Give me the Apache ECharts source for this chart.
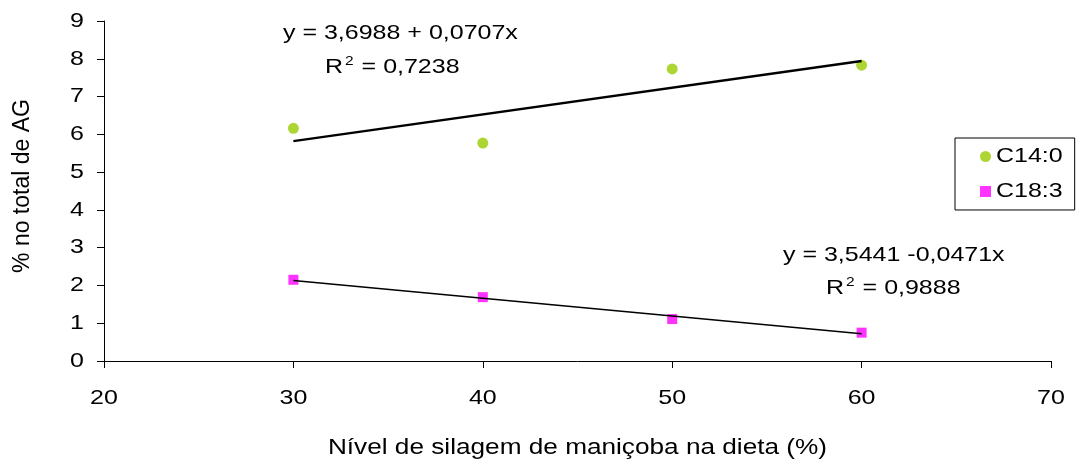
<!DOCTYPE html>
<html>
<head>
<meta charset="utf-8">
<script src="https://cdn.jsdelivr.net/npm/echarts@6/dist/echarts.min.js"></script>
<style>html,body{margin:0;padding:0;background:#fff}#c{width:1080px;height:459px}</style>
</head>
<body>
<div id="c"></div>
<script>
const levels = [30, 40, 50, 60];
const c14 = [6.16, 5.77, 7.73, 7.83];
const c18 = [2.15, 1.69, 1.11, 0.75];
const trendX = [30, 60];
const trendC14 = [5.82, 7.94];
const trendC18 = [2.13, 0.72];
const xTicks = [20, 30, 40, 50, 60, 70];
const eqC14 = ['y = 3,6988 + 0,0707x', 'R{s|2} = 0,7238'];
const eqC18 = ['y = 3,5441 -0,0471x', 'R{s|2} = 0,9888'];

// The reference picture is horizontally stretched; stretch horizontal text glyphs to match.
(function () {
  const S = 1.19;
  const p = CanvasRenderingContext2D.prototype;
  const ft = p.fillText, mt = p.measureText;
  p.fillText = function (t, x, y, mw) {
    const m = this.getTransform();
    if (Math.abs(m.b) > 1e-6 || Math.abs(m.c) > 1e-6) return ft.apply(this, arguments);
    this.save();
    this.translate(x, y);
    this.scale(S, 1);
    ft.call(this, t, 0, 0);
    this.restore();
  };
  p.measureText = function () {
    const r = mt.apply(this, arguments);
    return {
      width: r.width * S,
      actualBoundingBoxLeft: r.actualBoundingBoxLeft * S,
      actualBoundingBoxRight: r.actualBoundingBoxRight * S,
      actualBoundingBoxAscent: r.actualBoundingBoxAscent,
      actualBoundingBoxDescent: r.actualBoundingBoxDescent,
      fontBoundingBoxAscent: r.fontBoundingBoxAscent,
      fontBoundingBoxDescent: r.fontBoundingBoxDescent
    };
  };
})();

const font = 'Liberation Sans, Arial, sans-serif';
const chart = echarts.init(document.getElementById('c'));
const pair = (xs, ys) => xs.map((x, i) => [x, ys[i]]);
const txt = (s, x, y) => ({
  type: 'text', x: x, y: y,
  style: { text: s, fontFamily: font, fontSize: 21, fill: '#000', verticalAlign: 'middle',
    rich: { s: { fontSize: 13, verticalAlign: 'top', padding: [0, 1, 12, 2], fontFamily: font } } }
});
chart.setOption({
  animation: false,
  textStyle: { fontFamily: font },
  grid: { left: 104, right: 29, top: 21, bottom: 98, containLabel: false, outerBoundsMode: 'none' },
  xAxis: {
    type: 'value', min: xTicks[0], max: xTicks[xTicks.length - 1], interval: 10,
    name: 'Nível de silagem de maniçoba na dieta (%)', nameLocation: 'middle', nameGap: 74,
    nameTextStyle: { fontSize: 22, color: '#000', fontFamily: font },
    axisLine: { lineStyle: { color: '#000' } },
    axisTick: { length: 7, lineStyle: { color: '#000' } },
    axisLabel: { fontSize: 21, color: '#000', margin: 25, fontFamily: font },
    splitLine: { show: false }
  },
  yAxis: {
    type: 'value', min: 0, max: 9, interval: 1,
    name: '% no total de AG', nameLocation: 'middle', nameGap: 68,
    nameTextStyle: { fontSize: 23, color: '#000', fontFamily: font, padding: [0, 0, 0, 10] },
    axisLine: { show: true, lineStyle: { color: '#000' } },
    axisTick: { show: true, length: 7, lineStyle: { color: '#000' } },
    axisLabel: { fontSize: 21, color: '#000', margin: 20, fontFamily: font },
    splitLine: { show: false }
  },
  legend: {
    orient: 'vertical', left: 955, top: 138,
    borderColor: '#000', borderWidth: 1, borderRadius: 0,
    padding: [6, 12, 6, 25], itemGap: 10, itemWidth: 11, itemHeight: 11,
    textStyle: { fontSize: 21, color: '#000', fontFamily: font },
    data: [{ name: 'C14:0', icon: 'circle' }, { name: 'C18:3', icon: 'rect' }]
  },
  series: [
    { name: 'C14:0', type: 'scatter', symbol: 'circle', symbolSize: 11,
      itemStyle: { color: '#99CC00' }, data: pair(levels, c14), z: 3 },
    { name: 'C18:3', type: 'scatter', symbol: 'rect', symbolSize: 10,
      itemStyle: { color: '#FF00FF' }, data: pair(levels, c18), z: 3 },
    { name: 'trend1', type: 'line', data: pair(trendX, trendC14), symbol: 'none',
      lineStyle: { color: '#000', width: 2.4 }, z: 4, silent: true },
    { name: 'trend2', type: 'line', data: pair(trendX, trendC18), symbol: 'none',
      lineStyle: { color: '#000', width: 1.6 }, z: 4, silent: true }
  ],
  graphic: [
    txt(eqC14[0], 283, 33),
    txt(eqC14[1], 325, 67),
    txt(eqC18[0], 783, 255),
    txt(eqC18[1], 826, 288)
  ]
});
</script>
</body>
</html>
